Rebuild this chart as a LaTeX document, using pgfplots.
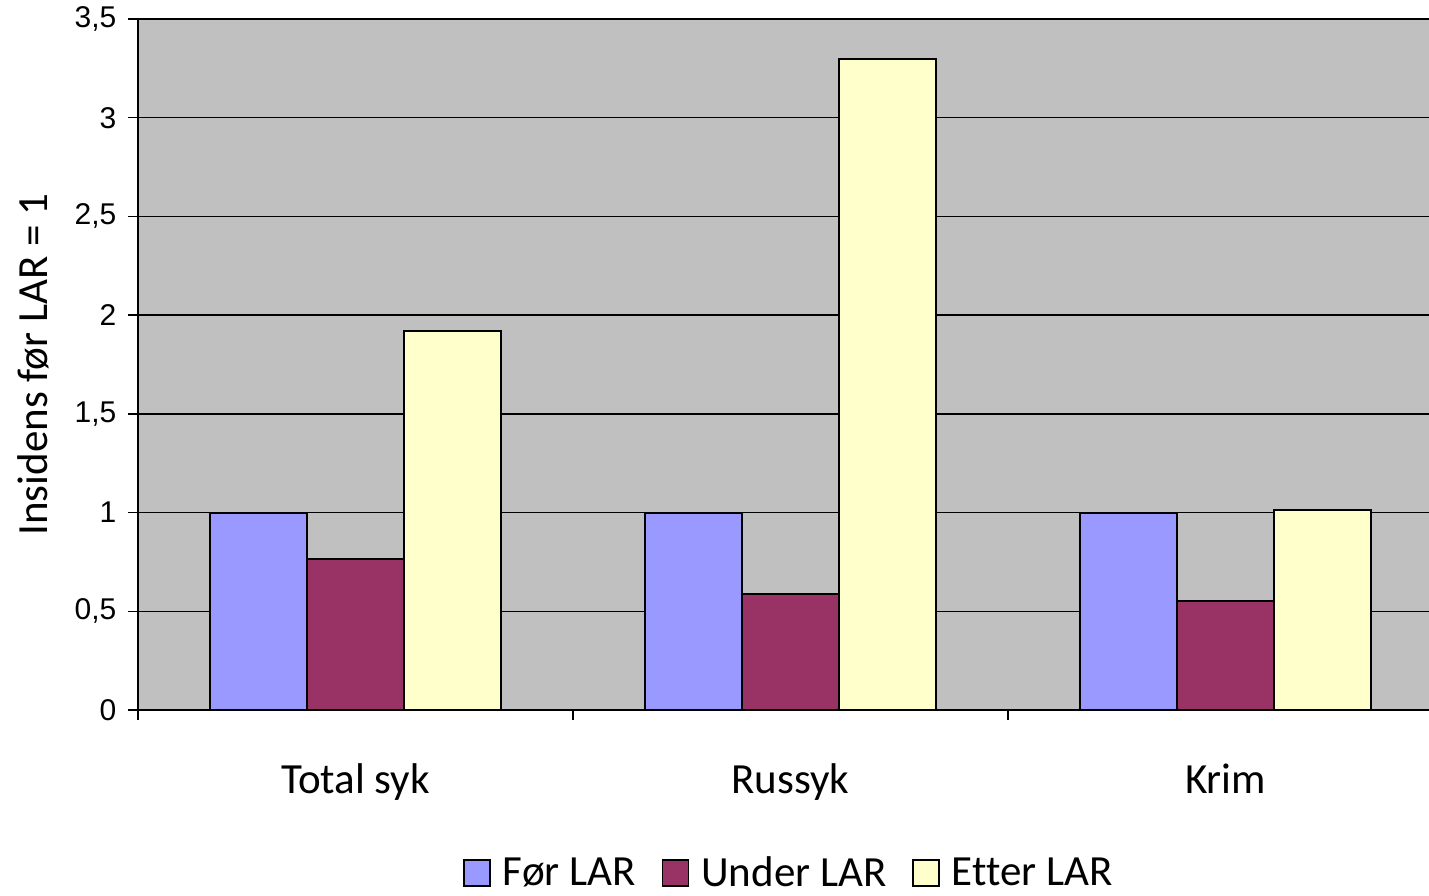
\documentclass[border=0pt]{standalone}
\usepackage{fontspec}
\setmainfont{Carlito}[Ligatures=NoCommon]
\newfontfamily\arialfont{Liberation Sans}
\usepackage{pgfplots}
\pgfplotsset{compat=1.18}
\definecolor{bgc}{HTML}{C0C0C0}
\definecolor{cblue}{HTML}{9999FF}
\definecolor{cred}{HTML}{993366}
\definecolor{cyel}{HTML}{FFFFCC}
\begin{document}
\begin{tikzpicture}
\begin{axis}[
  scale only axis,
  width=645.5pt, height=345.5pt,
  xmin=-0.5, xmax=2.468,
  ymin=0, ymax=3.5,
  ytick={0,0.5,1,1.5,2,2.5,3,3.5},
  xtick={-0.5,0.5,1.5,2.5},
  xticklabels={},
  axis x line*=bottom, axis y line*=left,
  axis line style={black, line width=0.75pt},
  tick align=outside,
  major tick length=5pt,
  tick style={black, line width=0.75pt},
  ymajorgrids,
  grid style={black, line width=0.75pt},
  axis background/.style={fill=bgc},
  /pgf/number format/assume math mode=true,
  /pgf/number format/use comma,
  yticklabel style={font=\arialfont\fontsize{15}{15}\selectfont, xshift=-2.3pt},
  ybar=0pt,
  bar width=48.5pt,
  clip=false,
  legend style={at={(0.505,-0.236)}, anchor=center, draw=none, fill=none,
    legend columns=3, font=\fontsize{21.5}{21.5}\selectfont,
    /tikz/every odd column/.append style={column sep=4pt},
    /tikz/every even column/.append style={column sep=11pt}},
  legend image code/.code={\draw[#1, line width=0.75pt] (0pt,-6.5pt) rectangle (13pt,6.5pt);},
]
\addplot[fill=cblue, draw=black, line width=1pt] coordinates {(0,1) (1,1) (2,1)};
\addplot[fill=cred, draw=black, line width=1pt] coordinates {(0,0.765) (1,0.588) (2,0.552)};
\addplot[fill=cyel, draw=black, line width=1pt] coordinates {(0,1.92) (1,3.295) (2,1.013)};
\legend{Før LAR, Under LAR, Etter LAR}
\node[anchor=base, font=\fontsize{21.5}{21.5}\selectfont] at ([yshift=-41.5pt]axis cs:0,0) {Total syk};
\node[anchor=base, font=\fontsize{21.5}{21.5}\selectfont] at ([yshift=-41.5pt]axis cs:1,0) {Russyk};
\node[anchor=base, font=\fontsize{21.5}{21.5}\selectfont] at ([yshift=-41.5pt]axis cs:2,0) {Krim};
\node[rotate=90, anchor=center, font=\fontsize{21.5}{21.5}\selectfont] at ([xshift=-52.5pt]rel axis cs:0,0.5) {Insidens før LAR = 1};
\coordinate (sw) at (rel axis cs:0,0);
\end{axis}
\pgfresetboundingbox
\path ([shift={(-69pt,-92.5pt)}]sw) rectangle ++(714.5pt,447.5pt);
\end{tikzpicture}
\end{document}
